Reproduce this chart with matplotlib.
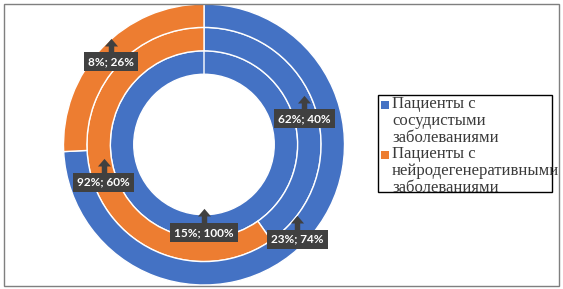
import matplotlib
matplotlib.use("Agg")
import matplotlib.pyplot as plt
from matplotlib.patches import Rectangle
from matplotlib.transforms import offset_copy
import numpy as np

# rings from inside to outside; each ring: [vascular, neurodegenerative]
ring_values = [
    [15, 0],
    [62, 92],
    [23, 8],
]
colors = ["#4472C4", "#ED7D31"]
legend_labels = [
    "Пациенты с\nсосудистыми\nзаболеваниями",
    "Пациенты с\nнейродегенеративными\nзаболеваниями",
]

W, H = 563, 289
fig = plt.figure(figsize=(W / 100, H / 100), dpi=100)
ax = fig.add_axes([63 / W, 4 / H, 282 / W, 281 / H])

ring_w = 1 / 6
box_tr = offset_copy(ax.transData, fig=fig, x=0, y=-6, units="dots")
arr_tr = offset_copy(ax.transData, fig=fig, x=0, y=10, units="dots")
arrow_marker = [(-6, 0), (0, 7), (6, 0), (2.5, 0), (2.5, -6), (-2.5, -6), (-2.5, 0), (-6, 0)]

for i, vals in enumerate(ring_values):
    r_out = 0.5 + ring_w * (i + 1)
    ax.pie(vals, radius=r_out, colors=colors, startangle=90, counterclock=False,
           wedgeprops=dict(width=ring_w, edgecolor="white", linewidth=1))
    total = sum(vals)
    start = 0.0
    r_mid = r_out - ring_w / 2
    for v in vals:
        frac = v / total
        mid = 2 * np.pi * (start + frac / 2)
        start += frac
        if v == 0:
            continue
        x, y = r_mid * np.sin(mid), r_mid * np.cos(mid)
        ax.plot(x, y, marker=arrow_marker, markersize=11, color="#404040",
                markeredgewidth=0, transform=arr_tr, zorder=5)
        ax.text(x, y, f"{v}%; {frac * 100:.0f}%", transform=box_tr, ha="center", va="center",
                color="white", fontsize=8.5, fontweight="bold", family="Lato", zorder=6,
                bbox=dict(boxstyle="square,pad=0.35", fc="#404040", ec="none"))

ax.set_xlim(-1, 1)
ax.set_ylim(-1, 1)
ax.set_aspect("equal")
ax.axis("off")

# legend drawn by hand: marker on first line, text overflowing the frame like the original
for i, (lab, c) in enumerate(zip(legend_labels, colors)):
    y_top = 1 - (96 + i * 50) / H
    fig.patches.append(Rectangle((381 / W, y_top - 13 / H), 8 / W, 8 / H, transform=fig.transFigure,
                                 fc=c, ec="none"))
    fig.text(392 / W, y_top, lab, ha="left", va="top", fontsize=12, family="Liberation Serif",
             color="#3a3a3a", linespacing=1.1)
fig.patches.append(Rectangle((378 / W, 1 - 192 / H), 174 / W, 97 / H, transform=fig.transFigure,
                             fill=False, ec="black", lw=1))

# outer chart border
fig.patches.append(Rectangle((4 / W, 3 / H), 555 / W, 282 / H, transform=fig.transFigure,
                             fill=False, ec="#7f7f7f", lw=1))

fig.savefig("out.png", dpi=100)
